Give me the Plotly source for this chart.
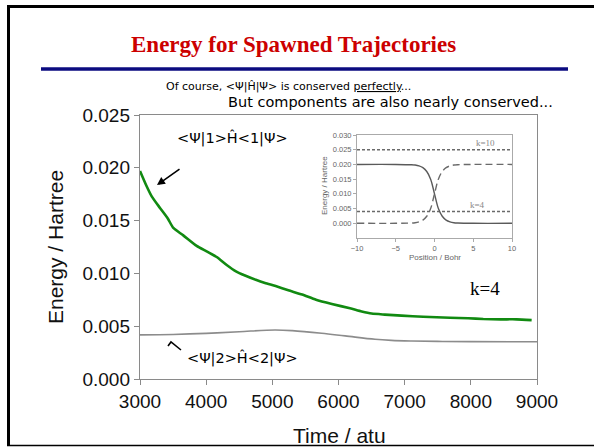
import plotly.graph_objects as go

W, H = 594, 447

# ---- main chart data ----
time_green = [3000, 3090, 3177, 3302, 3420, 3504, 3654, 3857, 4000, 4159, 4310, 4450, 4587,
              4750, 4889, 5050, 5242, 5450, 5660, 5900, 6174, 6350, 6500, 6700, 6953, 7281,
              7685, 7960, 8188, 8450, 8692, 8919]
energy_green = [0.0197, 0.0184, 0.0173, 0.0162, 0.0152, 0.0143, 0.0136, 0.0126, 0.0121, 0.01155,
                0.0108, 0.0102, 0.0098, 0.0094, 0.0091, 0.0088, 0.0084, 0.0080, 0.0075, 0.0071,
                0.0067, 0.0064, 0.0062, 0.0061, 0.0060, 0.0059, 0.0058, 0.00575, 0.00568,
                0.00565, 0.00565, 0.00558]

time_gray = [3000, 3500, 4000, 4500, 5040, 5300, 5745, 6100, 6552, 6800, 7108, 7500, 8000, 9000]
energy_gray = [0.00418, 0.00422, 0.00432, 0.00448, 0.00464, 0.00458, 0.00433, 0.00408, 0.00376,
               0.00366, 0.00360, 0.00356, 0.00354, 0.00353]

x_ticks = [3000, 4000, 5000, 6000, 7000, 8000, 9000]
y_ticks = [0.000, 0.005, 0.010, 0.015, 0.020, 0.025]

# ---- inset data ----
position = [-10, -5, -3, -2.5, -2, -1.5, -1, -0.5, 0, 0.5, 1, 1.5, 2, 2.5, 3, 5, 10]
pot_solid = [0.020, 0.020, 0.0199, 0.0198, 0.0195, 0.0189, 0.0176, 0.0150, 0.0100, 0.0050,
             0.0024, 0.0011, 0.0005, 0.0002, 0.0001, 0.0, 0.0]
pot_dashed = [0.0, 0.0, 0.0001, 0.0002, 0.0005, 0.0011, 0.0024, 0.0050, 0.0100, 0.0150,
              0.0176, 0.0189, 0.0195, 0.0198, 0.0199, 0.020, 0.020]
k_pos = [-10, 10]
k10_energy = [0.025, 0.025]
k4_energy = [0.004, 0.004]
inset_x_ticks = [-10, -5, 0, 5, 10]
inset_y_ticks = [0.000, 0.005, 0.010, 0.015, 0.020, 0.025, 0.030]


def px(x):
    return x / W


def py(y):
    return 1 - y / H


fig = go.Figure()

fig.add_trace(go.Scatter(x=time_gray, y=energy_gray, mode="lines", line=dict(color="#8c8c8c", width=1.6, shape="spline"),
                         xaxis="x", yaxis="y", showlegend=False, hoverinfo="skip"))
fig.add_trace(go.Scatter(x=time_green, y=energy_green, mode="lines", line=dict(color="#118a11", width=2.6, shape="spline", smoothing=0.6),
                         xaxis="x", yaxis="y", showlegend=False, hoverinfo="skip"))

# inset traces
fig.add_trace(go.Scatter(x=k_pos, y=k10_energy, mode="lines", line=dict(color="#6a6a6a", width=1.5, dash="3px,2px"),
                         xaxis="x2", yaxis="y2", showlegend=False, hoverinfo="skip"))
fig.add_trace(go.Scatter(x=k_pos, y=k4_energy, mode="lines", line=dict(color="#6a6a6a", width=1.5, dash="3px,2px"),
                         xaxis="x2", yaxis="y2", showlegend=False, hoverinfo="skip"))
fig.add_trace(go.Scatter(x=position, y=pot_solid, mode="lines", line=dict(color="#5a5a5a", width=1.4, shape="spline"),
                         xaxis="x2", yaxis="y2", showlegend=False, hoverinfo="skip"))
fig.add_trace(go.Scatter(x=position, y=pot_dashed, mode="lines", line=dict(color="#6a6a6a", width=1.4, shape="spline", dash="7px,4px"),
                         xaxis="x2", yaxis="y2", showlegend=False, hoverinfo="skip"))

axis_common = dict(showgrid=False, zeroline=False, showline=True, linecolor="#8a8a8a", linewidth=1.2,
                   mirror=True, ticks="outside", tickcolor="#8a8a8a", ticklen=5, automargin=False)
inset_axis = dict(showgrid=False, zeroline=False, showline=True, linecolor="#aaa", linewidth=1, mirror=True,
                  ticks="outside", tickcolor="#aaa", ticklen=3, automargin=False,
                  tickfont=dict(family="Liberation Sans, Arial", size=7.5, color="#666"))

fig.update_layout(
    template="none",
    width=W, height=H,
    margin=dict(l=0, r=0, t=0, b=0, pad=0, autoexpand=False),
    paper_bgcolor="white", plot_bgcolor="white",
    xaxis=dict(domain=[px(140), px(537)], range=[3000, 9000], tickvals=x_ticks,
               tickfont=dict(family="Liberation Sans, Arial", size=19, color="#111"), anchor="y", **axis_common),
    yaxis=dict(domain=[py(379), py(115)], range=[0, 0.025], tickvals=y_ticks, tickformat=".3f",
               tickfont=dict(family="Liberation Sans, Arial", size=19, color="#111"), anchor="x", **axis_common),
    xaxis2=dict(domain=[px(357), px(512)], range=[-10, 10], tickvals=inset_x_ticks, anchor="y2", **inset_axis),
    yaxis2=dict(domain=[py(238), py(135)], range=[-0.005, 0.030], tickvals=inset_y_ticks, tickformat=".3f",
                anchor="x2", **inset_axis),
)

# shapes: slide frame (left, top, bottom), blue rule, hook mark
fig.add_shape(type="line", xref="paper", yref="paper", x0=px(8.5), x1=px(8.5), y0=py(446), y1=py(5),
              line=dict(color="black", width=3), layer="above")
fig.add_shape(type="line", xref="paper", yref="paper", x0=px(7), x1=px(600), y0=py(6.5), y1=py(6.5),
              line=dict(color="black", width=3), layer="above")
fig.add_shape(type="line", xref="paper", yref="paper", x0=px(7), x1=px(600), y0=py(445.5), y1=py(445.5),
              line=dict(color="black", width=1.5), layer="above")
fig.add_shape(type="line", xref="paper", yref="paper", x0=px(41), x1=px(568), y0=py(69), y1=py(69),
              line=dict(color="#0b0b80", width=3.5))
fig.add_shape(type="path", xref="paper", yref="paper",
              path=f"M {px(168)},{py(346)} L {px(171)},{py(342)} L {px(181)},{py(350)}",
              line=dict(color="black", width=1.6))

ann = []
ann.append(dict(x=px(293.5), y=py(45), text="<b>Energy for Spawned Trajectories</b>", showarrow=False,
                font=dict(family="Liberation Serif, Times New Roman", size=23, color="#cc0000")))
ann.append(dict(x=px(288), y=py(86), text="Of course, <Ψ|Ĥ|Ψ> is conserved <u>perfectly</u>...", showarrow=False,
                font=dict(family="DejaVu Sans", size=11, color="black")))
ann.append(dict(x=px(391), y=py(102), text="But components are also nearly conserved...", showarrow=False,
                font=dict(family="DejaVu Sans", size=14.5, color="black")))
ann.append(dict(x=px(232), y=py(138), text="<Ψ|1>Ĥ<1|Ψ>", showarrow=False,
                font=dict(family="DejaVu Sans", size=14.5, color="black")))
ann.append(dict(x=px(242), y=py(358), text="<Ψ|2>Ĥ<2|Ψ>", showarrow=False,
                font=dict(family="DejaVu Sans", size=14.5, color="black")))
ann.append(dict(x=px(157), y=py(185), ax=24, ay=-17, text="", showarrow=True, arrowhead=2, arrowsize=1,
                arrowwidth=1.6, arrowcolor="black"))
ann.append(dict(x=px(485), y=py(288), text="k=4", showarrow=False,
                font=dict(family="Liberation Serif, Times New Roman", size=19, color="black")))
ann.append(dict(x=px(55), y=py(247), text="Energy / Hartree", textangle=-90, showarrow=False,
                font=dict(family="Liberation Sans, Arial", size=21, color="#111")))
ann.append(dict(x=px(339), y=py(435), text="Time / atu", showarrow=False,
                font=dict(family="Liberation Sans, Arial", size=21, color="#111")))
# inset labels
ann.append(dict(x=px(324), y=py(186), text="Energy / Hartree", textangle=-90, showarrow=False,
                font=dict(family="Liberation Sans, Arial", size=8, color="#666")))
ann.append(dict(x=px(435), y=py(257), text="Position / Bohr", showarrow=False,
                font=dict(family="Liberation Sans, Arial", size=8, color="#666")))
ann.append(dict(x=px(485), y=py(143), text="k=10", showarrow=False,
                font=dict(family="Liberation Serif, Times New Roman", size=9, color="#888")))
ann.append(dict(x=px(477), y=py(205), text="k=4", showarrow=False,
                font=dict(family="Liberation Serif, Times New Roman", size=9, color="#888")))
for a in ann:
    a.setdefault("xref", "paper")
    a.setdefault("yref", "paper")
    a.setdefault("xanchor", "center")
    a.setdefault("yanchor", "middle")
fig.update_layout(annotations=ann)

fig.write_html("out.html", config={"displayModeBar": False, "staticPlot": True},
               post_script="document.body.style.margin='0';document.body.style.overflow='hidden';")
